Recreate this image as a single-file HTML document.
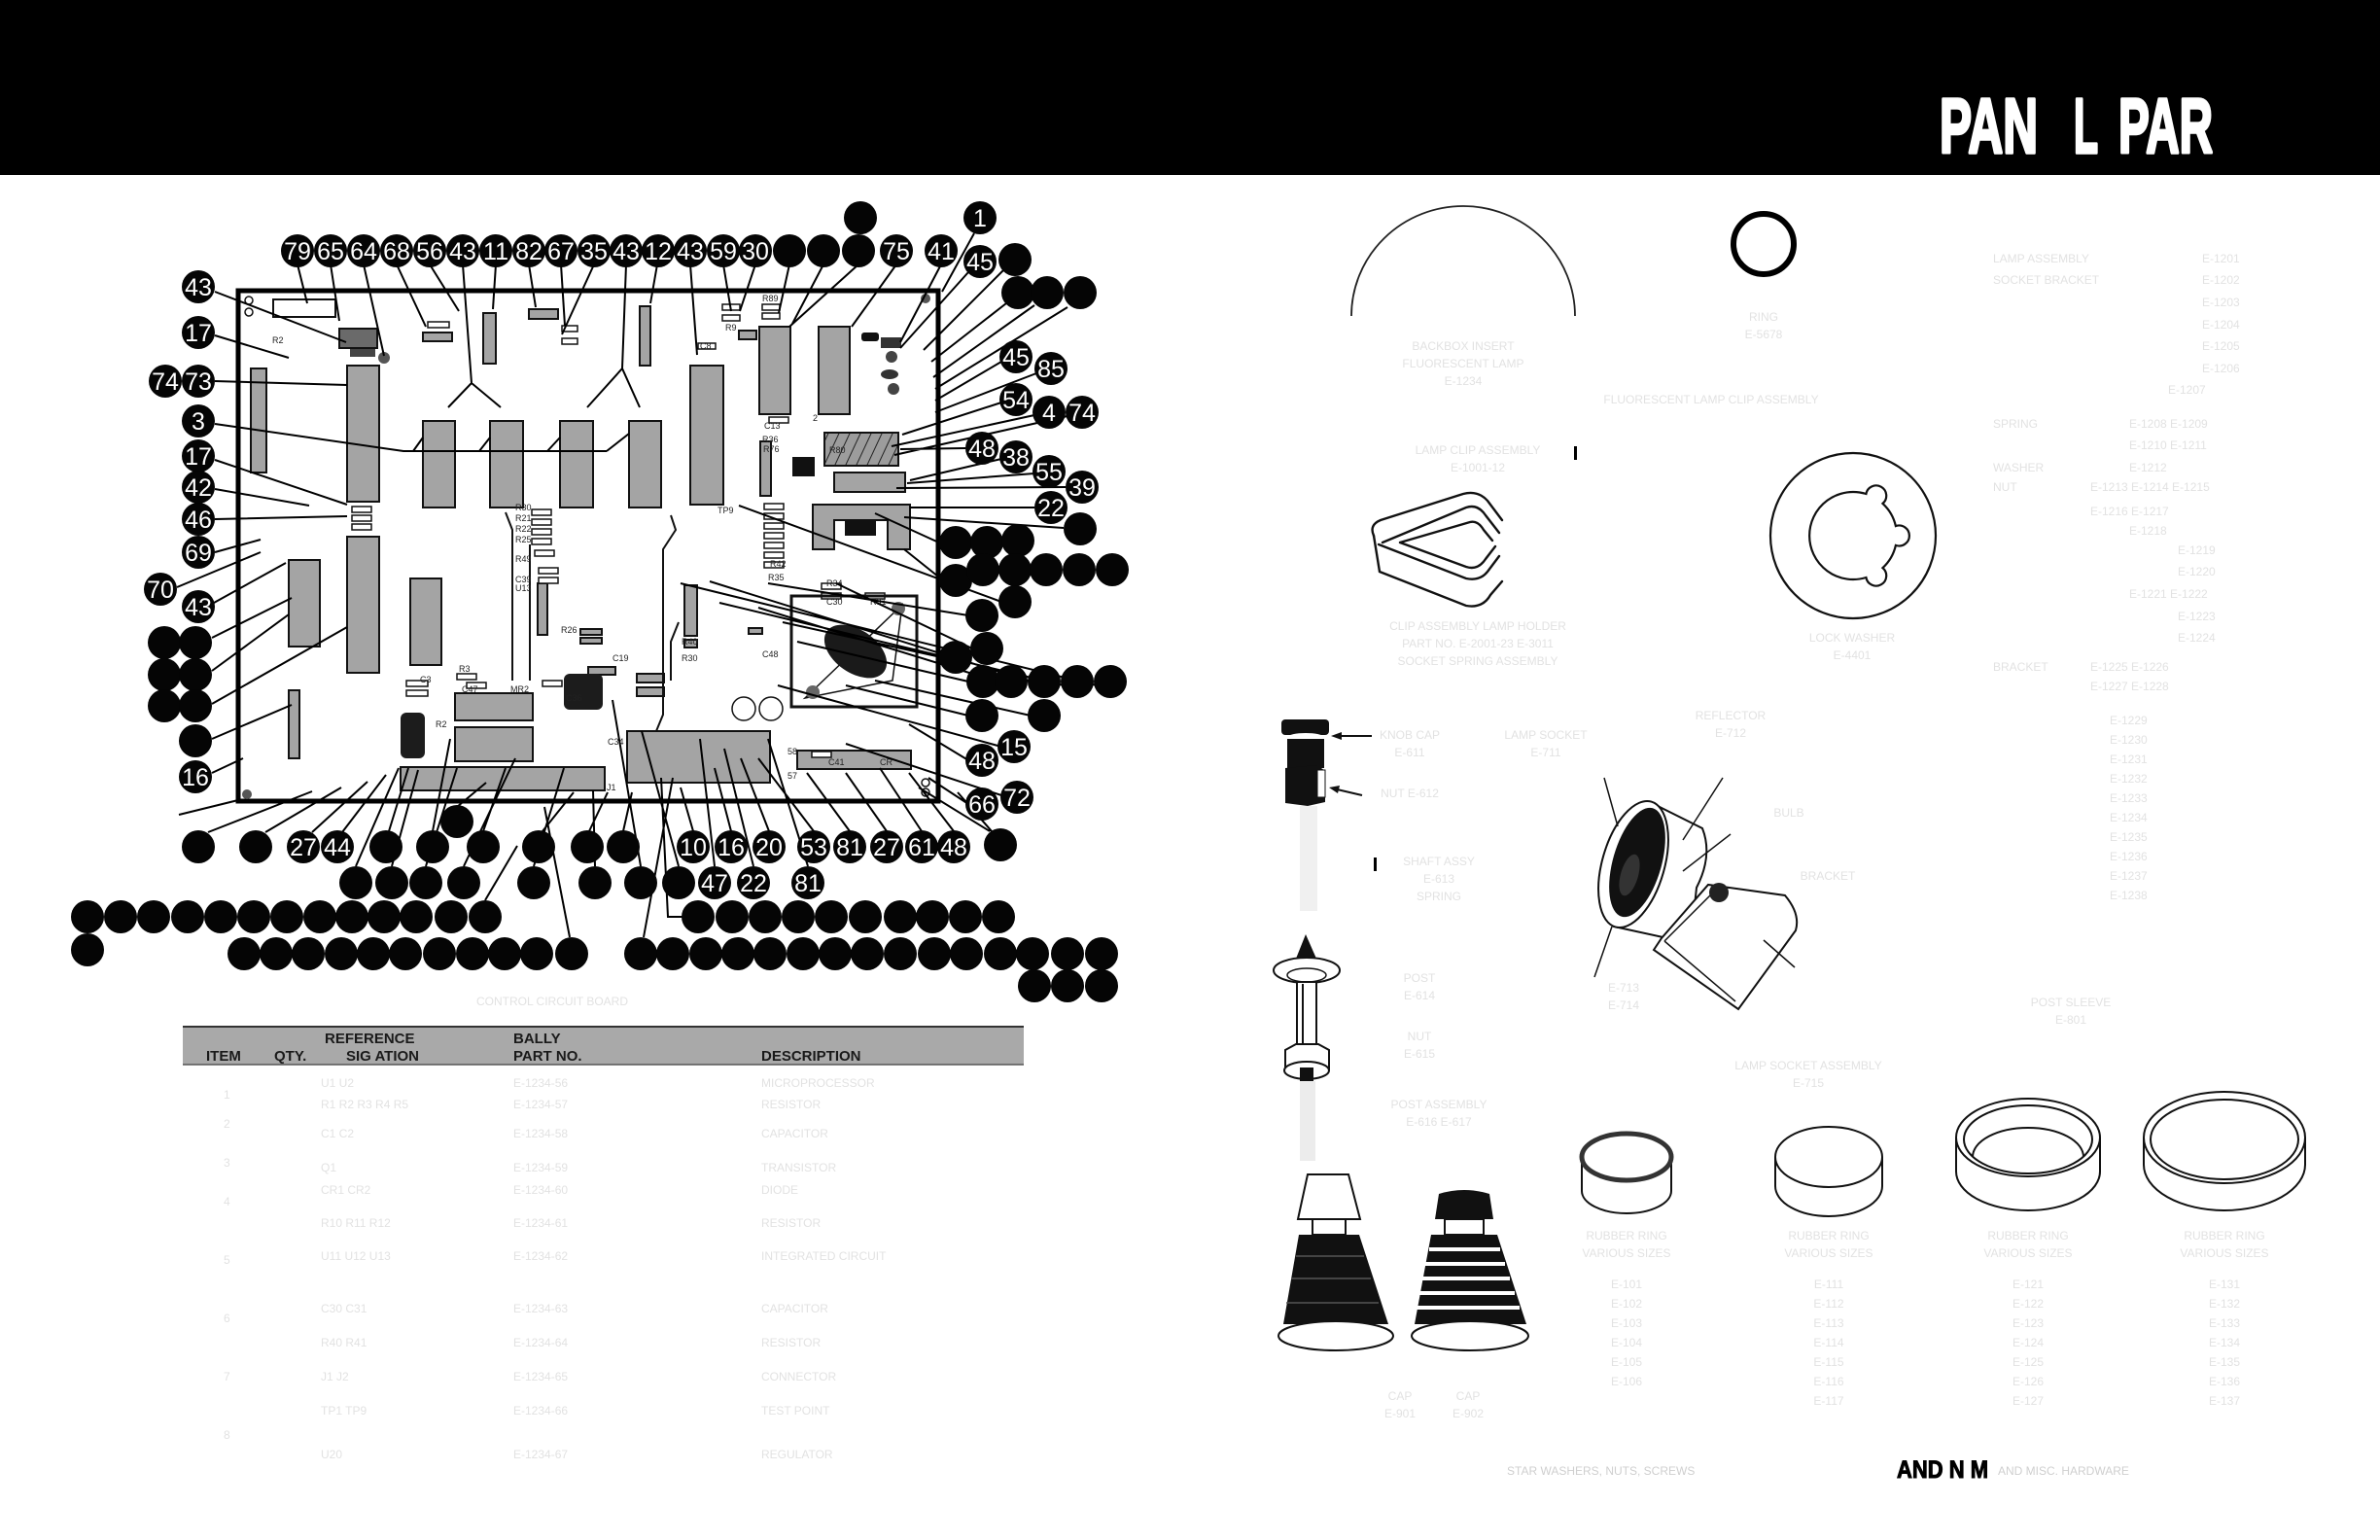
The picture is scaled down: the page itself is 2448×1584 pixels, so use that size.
<!DOCTYPE html>
<html><head><meta charset="utf-8"><title>Panel Parts</title>
<style>
html,body{margin:0;padding:0;background:#fff;}
svg{display:block;}
.n{font-family:"Liberation Sans Narrow","Liberation Sans",sans-serif;font-size:25px;fill:#fff;text-anchor:middle;}
.f{font-family:"Liberation Sans",sans-serif;font-size:12px;fill:#e2e2e2;}
.s{font-family:"Liberation Sans",sans-serif;font-size:9px;fill:#222;}
.h{font-family:"Liberation Sans",sans-serif;font-size:15px;font-weight:bold;fill:#1a1a1a;}
</style></head>
<body>
<svg width="2448" height="1584" viewBox="0 0 2448 1584" xmlns="http://www.w3.org/2000/svg">
<defs>
<pattern id="hat" width="10" height="10" patternUnits="userSpaceOnUse" patternTransform="rotate(25)">
<rect width="10" height="10" fill="#9c9c9c"/><line x1="0" y1="0" x2="0" y2="10" stroke="#222" stroke-width="2"/>
</pattern>
</defs>
<rect width="2448" height="1584" fill="#fff"/>
<!-- header -->
<rect x="0" y="0" width="2448" height="180" fill="#000"/>
<g font-family="'Liberation Sans Narrow','Liberation Sans',sans-serif" font-weight="bold" font-size="80" fill="#fff" stroke="#fff" stroke-width="3.5" stroke-linejoin="round">
<text x="1995" y="157" textLength="101" lengthAdjust="spacingAndGlyphs">PAN</text>
<text x="2133" y="157" textLength="25" lengthAdjust="spacingAndGlyphs">L</text>
<text x="2179" y="157" textLength="97" lengthAdjust="spacingAndGlyphs">PAR</text>
</g>

<!-- board -->
<rect x="245" y="299" width="720" height="525" fill="none" stroke="#000" stroke-width="5"/>
<rect x="281" y="308" width="64" height="18" fill="#fff" stroke="#111" stroke-width="2"/>
<circle cx="256" cy="309" r="4" fill="none" stroke="#111" stroke-width="1.5"/>
<circle cx="256" cy="321" r="4" fill="none" stroke="#111" stroke-width="1.5"/>
<circle cx="952" cy="307" r="5" fill="#555"/>
<circle cx="254" cy="817" r="5" fill="#555"/>
<circle cx="952" cy="805" r="4" fill="none" stroke="#111" stroke-width="1.5"/>
<circle cx="952" cy="815" r="4" fill="none" stroke="#111" stroke-width="1.5"/>
<g fill="#a4a4a4" stroke="#111" stroke-width="2">
<rect x="258" y="379" width="16" height="107"/>
<rect x="357" y="376" width="33" height="140"/>
<rect x="357" y="552" width="33" height="140"/>
<rect x="297" y="576" width="32" height="89"/>
<rect x="422" y="595" width="32" height="89"/>
<rect x="435" y="433" width="33" height="89"/>
<rect x="504" y="433" width="34" height="89"/>
<rect x="576" y="433" width="34" height="89"/>
<rect x="647" y="433" width="33" height="89"/>
<rect x="497" y="322" width="13" height="52"/>
<rect x="658" y="315" width="11" height="61"/>
<rect x="435" y="342" width="30" height="9"/>
<rect x="544" y="318" width="30" height="10"/>
<rect x="710" y="376" width="34" height="143"/>
<rect x="781" y="336" width="32" height="90"/>
<rect x="842" y="336" width="32" height="90"/>
<rect x="858" y="486" width="73" height="20"/>
<rect x="782" y="454" width="11" height="56"/>
<path d="M836,519 H936 V565 H913 V535 H858 V565 H836 Z"/>
<rect x="704" y="602" width="13" height="52"/>
<rect x="553" y="600" width="10" height="53"/>
<rect x="412" y="789" width="210" height="24"/>
<rect x="468" y="713" width="80" height="28"/>
<rect x="468" y="748" width="80" height="35"/>
<rect x="645" y="752" width="147" height="53"/>
<rect x="820" y="772" width="117" height="19"/>
<rect x="655" y="693" width="28" height="9"/>
<rect x="655" y="707" width="28" height="9"/>
<rect x="297" y="710" width="11" height="70"/>
<rect x="760" y="340" width="18" height="9"/>
<rect x="597" y="647" width="22" height="6"/>
<rect x="597" y="656" width="22" height="6"/>
<rect x="605" y="686" width="28" height="8"/>
<rect x="704" y="658" width="13" height="8"/>
<rect x="770" y="646" width="14" height="6"/>
</g>
<rect x="349" y="338" width="39" height="20" fill="#6a6a6a" stroke="#111" stroke-width="2"/>
<rect x="848" y="445" width="76" height="34" fill="url(#hat)" stroke="#111" stroke-width="2"/>
<rect x="815" y="470" width="23" height="20" fill="#111"/>
<rect x="869" y="536" width="32" height="15" fill="#111"/>
<rect x="580" y="693" width="40" height="37" rx="6" fill="#1c1c1c"/>
<rect x="412" y="733" width="25" height="47" rx="6" fill="#1c1c1c"/>
<rect x="886" y="342" width="18" height="9" rx="3" fill="#111"/>
<rect x="906" y="347" width="21" height="11" fill="#333"/>
<circle cx="917" cy="367" r="6" fill="#444"/>
<ellipse cx="915" cy="385" rx="9" ry="5" fill="#333"/>
<circle cx="919" cy="400" r="6" fill="#444"/>
<circle cx="395" cy="368" r="6" fill="#555"/>
<rect x="360" y="359" width="26" height="8" fill="#444"/>
<!-- small resistors -->
<g fill="#fff" stroke="#111" stroke-width="1.5">
<rect x="547" y="524" width="20" height="6"/><rect x="547" y="534" width="20" height="6"/>
<rect x="547" y="544" width="20" height="6"/><rect x="547" y="554" width="20" height="6"/>
<rect x="550" y="566" width="20" height="6"/>
<rect x="554" y="584" width="20" height="6"/><rect x="554" y="594" width="20" height="6"/>
<rect x="786" y="518" width="20" height="6"/><rect x="786" y="528" width="20" height="6"/>
<rect x="786" y="538" width="20" height="6"/><rect x="786" y="548" width="20" height="6"/>
<rect x="786" y="558" width="20" height="6"/><rect x="786" y="568" width="20" height="6"/>
<rect x="786" y="578" width="20" height="6"/>
<rect x="362" y="521" width="20" height="6"/><rect x="362" y="530" width="20" height="6"/>
<rect x="362" y="539" width="20" height="6"/>
<rect x="743" y="324" width="18" height="6"/><rect x="743" y="313" width="18" height="6"/>
<rect x="784" y="313" width="18" height="6"/><rect x="784" y="322" width="18" height="6"/>
<rect x="440" y="331" width="22" height="6"/>
<rect x="578" y="335" width="16" height="6"/><rect x="578" y="348" width="16" height="6"/>
<rect x="718" y="353" width="18" height="6"/>
<rect x="791" y="429" width="20" height="6"/>
<rect x="418" y="700" width="22" height="6"/><rect x="418" y="710" width="22" height="6"/>
<rect x="470" y="693" width="20" height="6"/><rect x="480" y="702" width="20" height="6"/>
<rect x="558" y="700" width="20" height="6"/>
<rect x="845" y="610" width="20" height="6"/><rect x="890" y="610" width="20" height="6"/>
<rect x="845" y="600" width="20" height="6"/>
<rect x="835" y="773" width="20" height="6"/>
</g>
<circle cx="765" cy="729" r="12" fill="#fff" stroke="#111" stroke-width="1.5"/>
<circle cx="793" cy="729" r="12" fill="#fff" stroke="#111" stroke-width="1.5"/>
<!-- transistor box -->
<rect x="814" y="613" width="129" height="114" fill="none" stroke="#111" stroke-width="3"/>
<polygon points="828,718 928,622 918,700" fill="none" stroke="#111" stroke-width="1.5"/>
<ellipse cx="880" cy="670" rx="36" ry="22" transform="rotate(35 880 670)" fill="#1a1a1a"/>
<circle cx="924" cy="626" r="7" fill="#666"/>
<circle cx="836" cy="712" r="7" fill="#666"/>
<!-- traces -->
<path d="M520,527 L527,545 L527,700 M545,560 L545,700 M690,530 L695,545 L682,565 L682,735 L675,752 M698,640 L690,660 L690,700" fill="none" stroke="#111" stroke-width="2"/>
<!-- small labels -->
<text class="s" x="738" y="528">TP9</text>
<text class="s" x="280" y="353">R2</text>
<text class="s" x="720" y="359">C8</text>
<text class="s" x="746" y="340">R9</text>
<text class="s" x="784" y="310">R89</text>
<text class="s" x="786" y="441">C13</text>
<text class="s" x="784" y="455">R36</text>
<text class="s" x="785" y="465">R76</text>
<text class="s" x="853" y="466">R80</text>
<text class="s" x="850" y="603">R34</text>
<text class="s" x="850" y="622">C30</text>
<text class="s" x="895" y="622">R31</text>
<text class="s" x="630" y="680">C19</text>
<text class="s" x="582" y="721">C36</text>
<text class="s" x="625" y="766">C34</text>
<text class="s" x="624" y="813">J1</text>
<text class="s" x="530" y="525">R30</text>
<text class="s" x="530" y="536">R21</text>
<text class="s" x="530" y="547">R22</text>
<text class="s" x="530" y="558">R25</text>
<text class="s" x="530" y="578">R49</text>
<text class="s" x="530" y="599">C39</text>
<text class="s" x="530" y="608">U13</text>
<text class="s" x="577" y="651">R26</text>
<text class="s" x="852" y="787">C41</text>
<text class="s" x="905" y="787">CR</text>
<text class="s" x="810" y="776">58</text>
<text class="s" x="810" y="801">57</text>
<text class="s" x="432" y="702">C3</text>
<text class="s" x="472" y="691">R3</text>
<text class="s" x="475" y="712">C47</text>
<text class="s" x="525" y="712">MR2</text>
<text class="s" x="448" y="748">R2</text>
<text class="s" x="792" y="583">R42</text>
<text class="s" x="790" y="597">R35</text>
<text class="s" x="836" y="433">2</text>
<text class="s" x="701" y="663">R40</text>
<text class="s" x="701" y="680">R30</text>
<text class="s" x="784" y="676">C48</text>

<!-- leader lines -->
<path fill="none" stroke="#000" stroke-width="2" d="
M306,272 L316,312 M340,272 L349,330 M374,272 L395,366 M408,272 L438,336 M442,272 L472,320
M476,272 L485,394 L461,419 M485,394 L515,419 M510,272 L507,318 M544,272 L551,316 M577,272 L581,335
M611,272 L578,344 M644,272 L640,379 L604,419 M640,379 L658,419 M676,272 L669,312 M710,272 L717,365
M744,272 L752,320 M777,272 L761,320 M812,272 L801,322 M847,272 L815,333 M883,272 L812,336
M922,272 L876,336 M968,272 L926,352 M1002,240 L969,300 M996,280 L926,358 M1032,278 L950,360
M1035,312 L958,372 M1064,314 L960,388 M1098,316 L962,400 M1030,372 L962,412 M1066,384 L962,424
M1030,414 L928,447 M1064,427 L917,459 M1098,428 L920,468 M993,461 L926,462 M1030,472 L936,494
M1064,487 L933,497 M1096,501 L922,502 M1064,522 L936,522 M1094,543 L930,532
M970,560 L900,528 M970,597 L930,565 M1030,619 L760,520 M996,633 L790,600 M968,676 L805,640
M1000,667 L860,600 M996,701 L820,660 M1026,701 L780,625 M1060,701 L730,598 M1094,705 L740,620
M1128,705 L700,600 M996,736 L870,705 M1060,736 L900,700 M1030,768 L800,705 M996,782 L935,745
M1033,819 L870,765 M996,827 L955,800 M1018,855 L945,810
M221,300 L356,352 M221,345 L297,368 M221,392 L357,396
M221,436 L415,464 L624,464 M425,464 L435,450 M493,464 L504,450 M563,464 L576,450 M624,464 L647,446
M221,473 L357,519 M221,503 L318,520 M221,534 L357,531 M221,568 L268,555 M182,604 L268,568
M220,620 L294,579 M218,656 L300,615 M218,690 L297,632 M218,724 L357,645 M218,760 L300,725
M218,795 L250,780 M184,838 L245,823
M214,856 L321,814 M273,856 L351,810 M321,856 L378,804 M352,856 L397,797 M400,855 L420,790
M445,855 L463,760 M470,830 L500,805 M497,855 L520,790 M558,855 L590,815 M606,855 L625,815
M641,855 L650,815 M713,855 L700,810 M752,855 L735,790 M791,855 L762,780 M837,855 L780,780
M874,855 L830,795 M912,855 L870,795 M948,855 L905,790 M981,855 L935,795 M1020,855 L985,815
M366,891 L410,790 M403,891 L430,792 M438,891 L470,790 M477,891 L530,780 M549,891 L580,790
M612,891 L610,813 M659,891 L630,720 M698,891 L660,752 M735,891 L720,760 M775,891 L745,770
M831,891 L790,760 M499,926 L532,870 M586,964 L560,830 M704,943 L687,943 L680,800 M662,964 L692,800"/>

<!-- callout circles -->
<g fill="#050505">
<circle cx="306" cy="258" r="17"/><circle cx="340" cy="258" r="17"/><circle cx="374" cy="258" r="17"/><circle cx="408" cy="258" r="17"/>
<circle cx="442" cy="258" r="17"/><circle cx="476" cy="258" r="17"/><circle cx="510" cy="258" r="17"/><circle cx="544" cy="258" r="17"/>
<circle cx="577" cy="258" r="17"/><circle cx="611" cy="258" r="17"/><circle cx="644" cy="258" r="17"/><circle cx="677" cy="258" r="17"/>
<circle cx="710" cy="258" r="17"/><circle cx="744" cy="258" r="17"/><circle cx="777" cy="258" r="17"/><circle cx="812" cy="258" r="17"/>
<circle cx="847" cy="258" r="17"/><circle cx="883" cy="258" r="17"/><circle cx="885" cy="224" r="17"/><circle cx="922" cy="258" r="17"/>
<circle cx="968" cy="258" r="17"/><circle cx="1008" cy="224" r="17"/><circle cx="1008" cy="269" r="17"/><circle cx="1044" cy="267" r="17"/>
<circle cx="1047" cy="301" r="17"/><circle cx="1077" cy="301" r="17"/><circle cx="1111" cy="301" r="17"/>
<circle cx="1045" cy="367" r="17"/><circle cx="1081" cy="379" r="17"/><circle cx="1045" cy="411" r="17"/><circle cx="1079" cy="424" r="17"/>
<circle cx="1113" cy="424" r="17"/><circle cx="1010" cy="461" r="17"/><circle cx="1045" cy="470" r="17"/><circle cx="1079" cy="485" r="17"/>
<circle cx="1113" cy="501" r="17"/><circle cx="1081" cy="522" r="17"/><circle cx="1111" cy="544" r="17"/>
<circle cx="983" cy="558" r="17"/><circle cx="983" cy="597" r="17"/><circle cx="1015" cy="558" r="17"/><circle cx="1047" cy="556" r="17"/>
<circle cx="1011" cy="586" r="17"/><circle cx="1044" cy="586" r="17"/><circle cx="1076" cy="586" r="17"/><circle cx="1110" cy="586" r="17"/>
<circle cx="1144" cy="586" r="17"/><circle cx="1044" cy="619" r="17"/><circle cx="1010" cy="633" r="17"/><circle cx="983" cy="676" r="17"/>
<circle cx="1015" cy="667" r="17"/><circle cx="1011" cy="701" r="17"/><circle cx="1040" cy="701" r="17"/><circle cx="1074" cy="701" r="17"/>
<circle cx="1108" cy="701" r="17"/><circle cx="1142" cy="701" r="17"/><circle cx="1010" cy="736" r="17"/><circle cx="1074" cy="736" r="17"/>
<circle cx="1043" cy="768" r="17"/><circle cx="1010" cy="782" r="17"/><circle cx="1046" cy="820" r="17"/><circle cx="1010" cy="827" r="17"/>
<circle cx="1029" cy="869" r="17"/>
<circle cx="204" cy="295" r="17"/><circle cx="204" cy="342" r="17"/><circle cx="170" cy="392" r="17"/><circle cx="204" cy="392" r="17"/>
<circle cx="204" cy="433" r="17"/><circle cx="204" cy="469" r="17"/><circle cx="204" cy="501" r="17"/><circle cx="204" cy="534" r="17"/>
<circle cx="204" cy="568" r="17"/><circle cx="165" cy="606" r="17"/><circle cx="204" cy="624" r="17"/>
<circle cx="169" cy="661" r="17"/><circle cx="201" cy="661" r="17"/><circle cx="169" cy="694" r="17"/><circle cx="201" cy="694" r="17"/>
<circle cx="169" cy="726" r="17"/><circle cx="201" cy="726" r="17"/><circle cx="201" cy="762" r="17"/><circle cx="201" cy="799" r="17"/>
<circle cx="204" cy="871" r="17"/><circle cx="263" cy="871" r="17"/><circle cx="312" cy="871" r="17"/><circle cx="347" cy="871" r="17"/>
<circle cx="397" cy="871" r="17"/><circle cx="445" cy="871" r="17"/><circle cx="470" cy="845" r="17"/><circle cx="497" cy="871" r="17"/>
<circle cx="554" cy="871" r="17"/><circle cx="604" cy="871" r="17"/><circle cx="641" cy="871" r="17"/>
<circle cx="713" cy="871" r="17"/><circle cx="752" cy="871" r="17"/><circle cx="791" cy="871" r="17"/><circle cx="837" cy="871" r="17"/>
<circle cx="874" cy="871" r="17"/><circle cx="912" cy="871" r="17"/><circle cx="948" cy="871" r="17"/><circle cx="981" cy="871" r="17"/>
<circle cx="366" cy="908" r="17"/><circle cx="403" cy="908" r="17"/><circle cx="438" cy="908" r="17"/><circle cx="477" cy="908" r="17"/>
<circle cx="549" cy="908" r="17"/><circle cx="612" cy="908" r="17"/><circle cx="659" cy="908" r="17"/><circle cx="698" cy="908" r="17"/>
<circle cx="735" cy="908" r="17"/><circle cx="775" cy="908" r="17"/><circle cx="831" cy="908" r="17"/>
<circle cx="90" cy="943" r="17"/><circle cx="124" cy="943" r="17"/><circle cx="158" cy="943" r="17"/><circle cx="193" cy="943" r="17"/>
<circle cx="227" cy="943" r="17"/><circle cx="261" cy="943" r="17"/><circle cx="295" cy="943" r="17"/><circle cx="329" cy="943" r="17"/>
<circle cx="362" cy="943" r="17"/><circle cx="395" cy="943" r="17"/><circle cx="428" cy="943" r="17"/><circle cx="464" cy="943" r="17"/>
<circle cx="499" cy="943" r="17"/>
<circle cx="718" cy="943" r="17"/><circle cx="753" cy="943" r="17"/><circle cx="787" cy="943" r="17"/><circle cx="821" cy="943" r="17"/>
<circle cx="855" cy="943" r="17"/><circle cx="890" cy="943" r="17"/><circle cx="926" cy="943" r="17"/><circle cx="959" cy="943" r="17"/>
<circle cx="993" cy="943" r="17"/><circle cx="1027" cy="943" r="17"/>
<circle cx="90" cy="977" r="17"/>
<circle cx="251" cy="981" r="17"/><circle cx="284" cy="981" r="17"/><circle cx="317" cy="981" r="17"/><circle cx="351" cy="981" r="17"/>
<circle cx="384" cy="981" r="17"/><circle cx="417" cy="981" r="17"/><circle cx="452" cy="981" r="17"/><circle cx="486" cy="981" r="17"/>
<circle cx="519" cy="981" r="17"/><circle cx="552" cy="981" r="17"/><circle cx="588" cy="981" r="17"/>
<circle cx="659" cy="981" r="17"/><circle cx="692" cy="981" r="17"/><circle cx="726" cy="981" r="17"/><circle cx="759" cy="981" r="17"/>
<circle cx="792" cy="981" r="17"/><circle cx="826" cy="981" r="17"/><circle cx="859" cy="981" r="17"/><circle cx="892" cy="981" r="17"/>
<circle cx="926" cy="981" r="17"/><circle cx="961" cy="981" r="17"/><circle cx="994" cy="981" r="17"/><circle cx="1029" cy="981" r="17"/>
<circle cx="1062" cy="981" r="17"/><circle cx="1098" cy="981" r="17"/><circle cx="1133" cy="981" r="17"/>
<circle cx="1064" cy="1014" r="17"/><circle cx="1098" cy="1014" r="17"/><circle cx="1133" cy="1014" r="17"/>
</g>
<g class="n">
<text x="306" y="267">79</text><text x="340" y="267">65</text><text x="374" y="267">64</text><text x="408" y="267">68</text>
<text x="442" y="267">56</text><text x="476" y="267">43</text><text x="510" y="267">11</text><text x="544" y="267">82</text>
<text x="577" y="267">67</text><text x="611" y="267">35</text><text x="644" y="267">43</text><text x="677" y="267">12</text>
<text x="710" y="267">43</text><text x="744" y="267">59</text><text x="777" y="267">30</text><text x="922" y="267">75</text>
<text x="968" y="267">41</text><text x="1008" y="233">1</text><text x="1008" y="278">45</text>
<text x="1045" y="376">45</text><text x="1081" y="388">85</text><text x="1045" y="420">54</text><text x="1079" y="433">4</text>
<text x="1113" y="433">74</text><text x="1010" y="470">48</text><text x="1045" y="479">38</text><text x="1079" y="494">55</text>
<text x="1113" y="510">39</text><text x="1081" y="531">22</text>
<text x="1043" y="777">15</text><text x="1010" y="791">48</text><text x="1046" y="829">72</text><text x="1010" y="836">66</text>
<text x="204" y="304">43</text><text x="204" y="351">17</text><text x="170" y="401">74</text><text x="204" y="401">73</text>
<text x="204" y="442">3</text><text x="204" y="478">17</text><text x="204" y="510">42</text><text x="204" y="543">46</text>
<text x="204" y="577">69</text><text x="165" y="615">70</text><text x="204" y="633">43</text><text x="201" y="808">16</text>
<text x="312" y="880">27</text><text x="347" y="880">44</text>
<text x="713" y="880">10</text><text x="752" y="880">16</text><text x="791" y="880">20</text><text x="837" y="880">53</text>
<text x="874" y="880">81</text><text x="912" y="880">27</text><text x="948" y="880">61</text><text x="981" y="880">48</text>
<text x="735" y="917">47</text><text x="775" y="917">22</text><text x="831" y="917">81</text>
</g>

<!-- faint caption under board -->
<text class="f" x="490" y="1034">CONTROL CIRCUIT BOARD</text>

<!-- table header -->
<rect x="188" y="1056" width="865" height="39" fill="#a9a9a9"/>
<line x1="188" y1="1056" x2="1053" y2="1056" stroke="#333" stroke-width="2"/>
<line x1="188" y1="1095" x2="1053" y2="1095" stroke="#555" stroke-width="1.5"/>
<text class="h" x="334" y="1073">REFERENCE</text>
<text class="h" x="212" y="1091">ITEM</text>
<text class="h" x="282" y="1091">QTY.</text>
<text class="h" x="356" y="1091">SIG  ATION</text>
<text class="h" x="528" y="1073">BALLY</text>
<text class="h" x="528" y="1091">PART NO.</text>
<text class="h" x="783" y="1091">DESCRIPTION</text>
<!-- faint table rows -->
<g class="f">
<text x="330" y="1118">U1 U2</text><text x="528" y="1118">E-1234-56</text><text x="783" y="1118">MICROPROCESSOR</text>
<text x="330" y="1140">R1 R2 R3 R4 R5</text><text x="528" y="1140">E-1234-57</text><text x="783" y="1140">RESISTOR</text>
<text x="330" y="1170">C1 C2</text><text x="528" y="1170">E-1234-58</text><text x="783" y="1170">CAPACITOR</text>
<text x="330" y="1205">Q1</text><text x="528" y="1205">E-1234-59</text><text x="783" y="1205">TRANSISTOR</text>
<text x="330" y="1228">CR1 CR2</text><text x="528" y="1228">E-1234-60</text><text x="783" y="1228">DIODE</text>
<text x="330" y="1262">R10 R11 R12</text><text x="528" y="1262">E-1234-61</text><text x="783" y="1262">RESISTOR</text>
<text x="330" y="1296">U11 U12 U13</text><text x="528" y="1296">E-1234-62</text><text x="783" y="1296">INTEGRATED CIRCUIT</text>
<text x="330" y="1350">C30 C31</text><text x="528" y="1350">E-1234-63</text><text x="783" y="1350">CAPACITOR</text>
<text x="330" y="1385">R40 R41</text><text x="528" y="1385">E-1234-64</text><text x="783" y="1385">RESISTOR</text>
<text x="330" y="1420">J1 J2</text><text x="528" y="1420">E-1234-65</text><text x="783" y="1420">CONNECTOR</text>
<text x="330" y="1455">TP1 TP9</text><text x="528" y="1455">E-1234-66</text><text x="783" y="1455">TEST POINT</text>
<text x="330" y="1500">U20</text><text x="528" y="1500">E-1234-67</text><text x="783" y="1500">REGULATOR</text>
<text x="230" y="1130">1</text><text x="230" y="1160">2</text><text x="230" y="1200">3</text><text x="230" y="1240">4</text>
<text x="230" y="1300">5</text><text x="230" y="1360">6</text><text x="230" y="1420">7</text><text x="230" y="1480">8</text>
</g>

<!-- right side parts -->
<path d="M1390,325 A115,113 0 0 1 1620,325" fill="none" stroke="#222" stroke-width="1.8"/>
<circle cx="1814" cy="251" r="31" fill="none" stroke="#000" stroke-width="6"/>
<rect x="1619" y="459" width="3" height="14" fill="#000"/>
<g fill="none" stroke="#111" stroke-width="2.4" stroke-linecap="round">
<path d="M1413,551 Q1408,540 1420,535 L1505,508 Q1520,504 1530,515 L1545,535"/>
<path d="M1422,558 L1508,522 Q1520,518 1528,530 L1542,548"/>
<path d="M1440,558 L1512,537 Q1520,535 1526,545 L1535,556 M1440,558 L1508,583 Q1520,587 1528,575 L1538,562"/>
<path d="M1418,560 L1508,595 Q1522,598 1530,588 L1542,572"/>
<path d="M1413,551 L1419,588 L1508,623 Q1525,626 1533,612 L1545,598"/>
</g>
<circle cx="1906" cy="551" r="85" fill="none" stroke="#111" stroke-width="2.2"/>
<path d="M1919.4,594 A45,45 0 1 1 1919.4,508 A10.5,10.5 0 1 1 1936.5,517.9 A45,45 0 0 1 1949.9,541.1 A10.5,10.5 0 1 1 1949.9,560.9 A45,45 0 0 1 1936.5,584.1 A10.5,10.5 0 1 1 1919.4,594 Z" fill="none" stroke="#111" stroke-width="2.2"/>

<!-- knob part -->
<rect x="1318" y="740" width="49" height="16" rx="4" fill="#111"/>
<ellipse cx="1343" cy="758" rx="18" ry="4" fill="#fff"/>
<rect x="1324" y="760" width="38" height="30" fill="#111"/>
<polygon points="1322,790 1355,787 1363,793 1363,825 1345,829 1322,826" fill="#111"/>
<rect x="1355" y="792" width="8" height="28" fill="#fff" stroke="#111" stroke-width="1"/>
<rect x="1337" y="829" width="18" height="108" fill="#f0f0f0"/>
<g stroke="#111" stroke-width="2"><line x1="1373" y1="757" x2="1411" y2="757"/><line x1="1371" y1="811" x2="1401" y2="818"/></g>
<polygon points="1369,757 1380,753 1380,761" fill="#111"/>
<polygon points="1367,810 1378,808 1376,816" fill="#111"/>
<rect x="1413" y="882" width="3" height="14" fill="#000"/>
<!-- post part -->
<polygon points="1343,961 1333,986 1354,986" fill="#111"/>
<ellipse cx="1344" cy="998" rx="34" ry="13" fill="#fff" stroke="#111" stroke-width="2"/>
<ellipse cx="1344" cy="1003" rx="20" ry="7" fill="none" stroke="#111" stroke-width="1.5"/>
<rect x="1334" y="1010" width="20" height="68" fill="#fff" stroke="#111" stroke-width="2"/>
<line x1="1340" y1="1012" x2="1340" y2="1076" stroke="#111" stroke-width="2"/>
<polygon points="1322,1080 1333,1074 1356,1074 1367,1080 1367,1100 1322,1100" fill="#fff" stroke="#111" stroke-width="2"/>
<ellipse cx="1344" cy="1101" rx="23" ry="9" fill="#fff" stroke="#111" stroke-width="2"/>
<rect x="1337" y="1098" width="14" height="14" fill="#111"/>
<rect x="1337" y="1112" width="16" height="82" fill="#ececec"/>

<!-- cones -->
<polygon points="1345,1208 1387,1208 1399,1254 1335,1254" fill="#fff" stroke="#111" stroke-width="2"/>
<rect x="1350" y="1254" width="34" height="16" fill="#fff" stroke="#111" stroke-width="2"/>
<path d="M1336,1270 L1398,1270 L1428,1362 L1320,1362 Z" fill="#111"/>
<g stroke="#555" stroke-width="1.5"><line x1="1333" y1="1292" x2="1403" y2="1292"/><line x1="1328" y1="1315" x2="1410" y2="1315"/><line x1="1323" y1="1340" x2="1418" y2="1340"/></g>
<ellipse cx="1374" cy="1374" rx="59" ry="15" fill="#fff" stroke="#111" stroke-width="2"/>
<path d="M1480,1228 Q1506,1220 1532,1228 L1536,1254 L1476,1254 Z" fill="#111"/>
<rect x="1486" y="1254" width="40" height="16" fill="#fff" stroke="#111" stroke-width="2"/>
<path d="M1472,1270 L1540,1270 L1570,1362 L1455,1362 Z" fill="#111"/>
<g stroke="#fff" stroke-width="4"><line x1="1470" y1="1285" x2="1543" y2="1285"/><line x1="1466" y1="1300" x2="1548" y2="1300"/><line x1="1462" y1="1315" x2="1553" y2="1315"/><line x1="1458" y1="1330" x2="1558" y2="1330"/><line x1="1454" y1="1345" x2="1563" y2="1345"/></g>
<ellipse cx="1512" cy="1374" rx="60" ry="15" fill="#fff" stroke="#111" stroke-width="2"/>

<!-- lamp reflector -->
<path d="M1697,825 L1751,852 Q1762,880 1745,913 L1740,960 L1715,965 L1660,953 Z" fill="#fff" stroke="#111" stroke-width="2"/>
<path d="M1701,977 L1709,965 L1757,910 L1836,921 Q1852,940 1847,957 L1788,1038 Z" fill="#fff" stroke="#111" stroke-width="2"/>
<path d="M1712,968 L1760,920 M1712,968 L1785,1030" fill="none" stroke="#111" stroke-width="1.5"/>
<ellipse cx="1680" cy="889" rx="32" ry="67" transform="rotate(16 1680 889)" fill="#fff" stroke="#111" stroke-width="2"/>
<ellipse cx="1684" cy="887" rx="25" ry="58" transform="rotate(16 1684 887)" fill="#111"/>
<ellipse cx="1676" cy="900" rx="9" ry="22" transform="rotate(16 1676 900)" fill="#333"/>
<circle cx="1768" cy="918" r="10" fill="#222"/>
<g stroke="#111" stroke-width="1.5"><line x1="1650" y1="800" x2="1664" y2="850"/><line x1="1772" y1="800" x2="1731" y2="864"/><line x1="1780" y1="858" x2="1731" y2="896"/><line x1="1658" y1="953" x2="1640" y2="1005"/><line x1="1846" y1="995" x2="1814" y2="967"/></g>

<!-- cups -->
<g fill="#fff" stroke="#111" stroke-width="2">
<path d="M1627,1190 L1627,1225 A46,23 0 0 0 1719,1225 L1719,1190"/>
<ellipse cx="1673" cy="1190" rx="46" ry="24" stroke="#333" stroke-width="5"/>
<path d="M1826,1190 L1826,1220 A55,31 0 0 0 1936,1220 L1936,1190"/>
<ellipse cx="1881" cy="1190" rx="55" ry="31"/>
<path d="M2012,1170 L2012,1205 A74,40 0 0 0 2160,1205 L2160,1170"/>
<ellipse cx="2086" cy="1170" rx="74" ry="40"/>
<ellipse cx="2086" cy="1172" rx="66" ry="35"/>
<path d="M2029,1190 A57,30 0 0 1 2143,1190" fill="none"/>
<path d="M2205,1170 L2205,1198 A83,47 0 0 0 2371,1198 L2371,1170"/>
<ellipse cx="2288" cy="1170" rx="83" ry="47"/>
<ellipse cx="2288" cy="1172" rx="76" ry="41"/>
</g>

<!-- faint labels right side -->
<g class="f" text-anchor="middle">
<text x="1505" y="360">BACKBOX INSERT</text><text x="1505" y="378">FLUORESCENT LAMP</text><text x="1505" y="396">E-1234</text>
<text x="1814" y="330">RING</text><text x="1814" y="348">E-5678</text>
<text x="1760" y="415">FLUORESCENT LAMP CLIP ASSEMBLY</text>
<text x="1520" y="467">LAMP CLIP ASSEMBLY</text><text x="1520" y="485">E-1001-12</text>
<text x="1520" y="648">CLIP ASSEMBLY    LAMP HOLDER</text><text x="1520" y="666">PART NO.  E-2001-23  E-3011</text><text x="1520" y="684">SOCKET SPRING ASSEMBLY</text>
<text x="1905" y="660">LOCK WASHER</text><text x="1905" y="678">E-4401</text>
<text x="1450" y="760">KNOB CAP</text><text x="1450" y="778">E-611</text>
<text x="1450" y="820">NUT E-612</text>
<text x="1480" y="890">SHAFT ASSY</text><text x="1480" y="908">E-613</text><text x="1480" y="926">SPRING</text>
<text x="1460" y="1010">POST</text><text x="1460" y="1028">E-614</text>
<text x="1460" y="1070">NUT</text><text x="1460" y="1088">E-615</text>
<text x="1480" y="1140">POST ASSEMBLY</text><text x="1480" y="1158">E-616 E-617</text>
<text x="1590" y="760">LAMP SOCKET</text><text x="1590" y="778">E-711</text>
<text x="1780" y="740">REFLECTOR</text><text x="1780" y="758">E-712</text>
<text x="1840" y="840">BULB</text><text x="1880" y="905">BRACKET</text>
<text x="1670" y="1020">E-713</text><text x="1670" y="1038">E-714</text>
<text x="1860" y="1100">LAMP SOCKET ASSEMBLY</text><text x="1860" y="1118">E-715</text>
<text x="2130" y="1035">POST SLEEVE</text><text x="2130" y="1053">E-801</text>
<text x="1440" y="1440">CAP</text><text x="1440" y="1458">E-901</text>
<text x="1510" y="1440">CAP</text><text x="1510" y="1458">E-902</text>
<text x="1673" y="1275">RUBBER RING</text><text x="1673" y="1293">VARIOUS SIZES</text>
<text x="1881" y="1275">RUBBER RING</text><text x="1881" y="1293">VARIOUS SIZES</text>
<text x="2086" y="1275">RUBBER RING</text><text x="2086" y="1293">VARIOUS SIZES</text>
<text x="2288" y="1275">RUBBER RING</text><text x="2288" y="1293">VARIOUS SIZES</text>
<text x="1673" y="1325">E-101</text><text x="1673" y="1345">E-102</text><text x="1673" y="1365">E-103</text><text x="1673" y="1385">E-104</text><text x="1673" y="1405">E-105</text><text x="1673" y="1425">E-106</text>
<text x="1881" y="1325">E-111</text><text x="1881" y="1345">E-112</text><text x="1881" y="1365">E-113</text><text x="1881" y="1385">E-114</text><text x="1881" y="1405">E-115</text><text x="1881" y="1425">E-116</text><text x="1881" y="1445">E-117</text>
<text x="2086" y="1325">E-121</text><text x="2086" y="1345">E-122</text><text x="2086" y="1365">E-123</text><text x="2086" y="1385">E-124</text><text x="2086" y="1405">E-125</text><text x="2086" y="1425">E-126</text><text x="2086" y="1445">E-127</text>
<text x="2288" y="1325">E-131</text><text x="2288" y="1345">E-132</text><text x="2288" y="1365">E-133</text><text x="2288" y="1385">E-134</text><text x="2288" y="1405">E-135</text><text x="2288" y="1425">E-136</text><text x="2288" y="1445">E-137</text>
</g>
<g class="f">
<text x="2050" y="270">LAMP ASSEMBLY</text><text x="2265" y="270">E-1201</text>
<text x="2050" y="292">SOCKET BRACKET</text><text x="2265" y="292">E-1202</text>
<text x="2265" y="315">E-1203</text><text x="2265" y="338">E-1204</text><text x="2265" y="360">E-1205</text><text x="2265" y="383">E-1206</text><text x="2230" y="405">E-1207</text>
<text x="2050" y="440">SPRING</text><text x="2190" y="440">E-1208 E-1209</text>
<text x="2190" y="462">E-1210 E-1211</text>
<text x="2050" y="485">WASHER</text><text x="2190" y="485">E-1212</text>
<text x="2050" y="505">NUT</text><text x="2150" y="505">E-1213 E-1214 E-1215</text>
<text x="2150" y="530">E-1216 E-1217</text><text x="2190" y="550">E-1218</text>
<text x="2240" y="570">E-1219</text><text x="2240" y="592">E-1220</text><text x="2190" y="615">E-1221 E-1222</text>
<text x="2240" y="638">E-1223</text><text x="2240" y="660">E-1224</text>
<text x="2050" y="690">BRACKET</text><text x="2150" y="690">E-1225 E-1226</text><text x="2150" y="710">E-1227 E-1228</text>
<text x="2170" y="745">E-1229</text><text x="2170" y="765">E-1230</text><text x="2170" y="785">E-1231</text><text x="2170" y="805">E-1232</text>
<text x="2170" y="825">E-1233</text><text x="2170" y="845">E-1234</text><text x="2170" y="865">E-1235</text><text x="2170" y="885">E-1236</text>
<text x="2170" y="905">E-1237</text><text x="2170" y="925">E-1238</text>
<text x="1550" y="1517" fill="#cfcfcf">STAR WASHERS, NUTS, SCREWS</text>
<text x="2055" y="1517" fill="#cfcfcf">AND MISC. HARDWARE</text>
</g>
<text x="1951" y="1520" font-family="'Liberation Sans Narrow','Liberation Sans',sans-serif" font-weight="bold" font-size="25" fill="#000" stroke="#000" stroke-width="1" textLength="94" lengthAdjust="spacingAndGlyphs">AND N  M</text>
</svg>
</body></html>
